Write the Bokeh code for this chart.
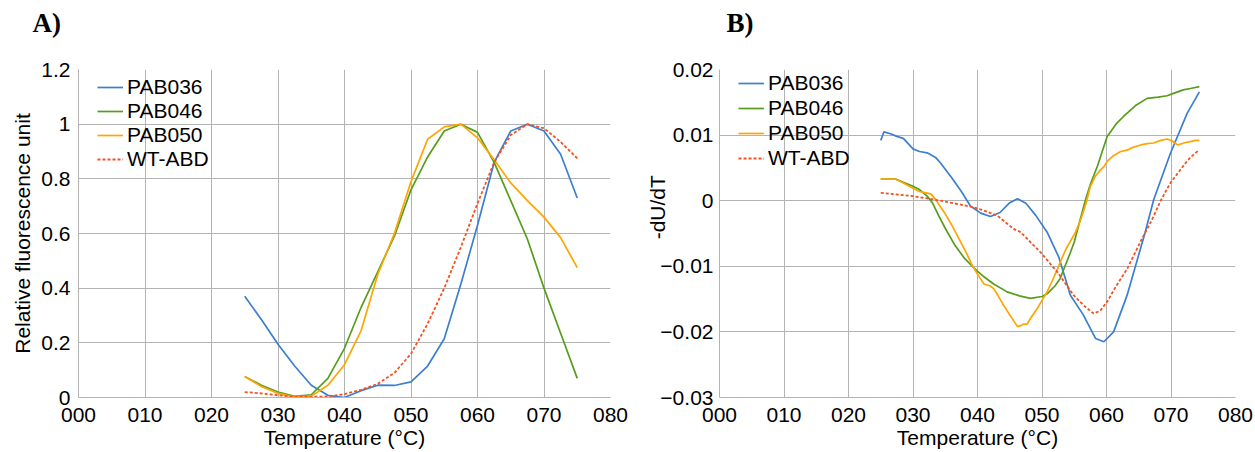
from bokeh.plotting import figure
from bokeh.layouts import row
from bokeh.models import Range1d, FixedTicker, Legend, LegendItem
from bokeh.embed import file_html
from bokeh.resources import INLINE

# ---------------- data ----------------
x_ticks = [0, 10, 20, 30, 40, 50, 60, 70, 80]
x_tick_labels = ["000", "010", "020", "030", "040", "050", "060", "070", "080"]
yA_ticks = [0, 0.2, 0.4, 0.6, 0.8, 1.0, 1.2]
yA_tick_labels = ["0", "0.2", "0.4", "0.6", "0.8", "1", "1.2"]
yB_ticks = [-0.03, -0.02, -0.01, 0, 0.01, 0.02]
yB_tick_labels = ["\u22120.03", "\u22120.02", "\u22120.01", "0", "0.01", "0.02"]

series_names = ["PAB036", "PAB046", "PAB050", "WT-ABD"]

# Panel A: relative fluorescence
tA = [25, 27.5, 30, 32.5, 35, 37.5, 40, 42.5, 45, 47.5, 50, 52.5, 55, 57.5,
      60, 62.5, 65, 67.5, 70, 72.5, 75]
a_pab036 = [0.37, 0.285, 0.195, 0.115, 0.045, 0.008, 0.0, 0.025, 0.045, 0.044, 0.057,
            0.115, 0.215, 0.415, 0.63, 0.86, 0.975, 1.0, 0.975, 0.89, 0.73]
a_pab046 = [0.077, 0.045, 0.02, 0.004, 0.01, 0.07, 0.18, 0.33, 0.46, 0.59, 0.76,
            0.88, 0.975, 1.0, 0.97, 0.86, 0.72, 0.58, 0.4, 0.235, 0.07]
a_pab050 = [0.077, 0.04, 0.015, 0.002, 0.005, 0.045, 0.12, 0.245, 0.45, 0.6, 0.79,
            0.945, 0.99, 1.0, 0.95, 0.87, 0.785, 0.72, 0.66, 0.585, 0.475]
a_wtabd = [0.02, 0.015, 0.008, 0.003, 0.002, 0.004, 0.012, 0.028, 0.05, 0.09, 0.16,
           0.27, 0.4, 0.55, 0.71, 0.86, 0.96, 1.0, 0.985, 0.935, 0.875]

# Panel B: -dU/dT
tB_pab036 = [25, 25.5, 26.5, 27.5, 28.5, 30, 31, 32.2, 33.5, 34.3, 36, 37.5, 38.9,
             40.5, 42, 43.5, 45, 46.2, 47.5, 49, 50.8, 52.6, 54.4, 56.4, 58.3,
             59.6, 61.1, 63.2, 66, 67.3, 69.9, 72.5, 74.4]
b_pab036 = [0.0092, 0.0105, 0.0102, 0.0098, 0.0095, 0.0079, 0.0075, 0.0073, 0.0066,
            0.0057, 0.0035, 0.0014, -0.0008, -0.0019, -0.0024, -0.0018, -0.0003,
            0.0003, -0.0004, -0.0022, -0.0048, -0.0086, -0.0144, -0.0174, -0.021,
            -0.0215, -0.020, -0.0144, -0.0048, 0.0001, 0.0072, 0.0133, 0.0166]

tB_pab046 = [25, 27.3, 28.5, 30, 31, 32.2, 33, 34, 35, 36.5, 38, 39.5, 41, 42.5,
             44.6, 46.5, 48.2, 50, 50.8, 52, 52.8, 54.4, 55, 56.7, 57.5, 58.6, 60.1,
             61.5, 62.6, 64.5, 66.3, 68, 69.4, 70.5, 71.9, 73, 74.4]
b_pab046 = [0.0033, 0.0033, 0.0028, 0.0022, 0.0017, 0.0007, -0.0003, -0.0023,
            -0.0042, -0.0068, -0.0088, -0.0103, -0.0116, -0.0127, -0.0139, -0.0145,
            -0.0149, -0.0146, -0.0142, -0.013, -0.0119, -0.0079, -0.0063, 0.0,
            0.0025, 0.0053, 0.0098, 0.0117, 0.0128, 0.0145, 0.0156, 0.0158, 0.016,
            0.0164, 0.0169, 0.0171, 0.0174]

tB_pab050 = [25, 27.3, 28.5, 30, 31, 32, 32.8, 33.5, 34.3, 35, 36, 37.4, 38.3, 39.2,
             40.2, 41, 42, 42.5, 43.2, 43.9, 44.6, 45.4, 46.2, 46.8, 47.2, 47.7,
             48.3, 49.3, 50, 50.8, 51.6, 52.4, 53, 53.7, 55.2, 56, 56.8, 57.5, 58.3,
             59.1, 59.6, 60.1, 61, 62.2, 63.2, 64, 65.3, 66.3, 67.3, 68.4, 69.4,
             70.2, 71, 72, 73, 73.8, 74.4]
b_pab050 = [0.0033, 0.0033, 0.0027, 0.0019, 0.0014, 0.0012, 0.001, 0.0002, -0.001,
            -0.002, -0.0037, -0.0063, -0.008, -0.0099, -0.0115, -0.0127, -0.013,
            -0.0134, -0.0145, -0.0157, -0.0168, -0.018, -0.0192, -0.019, -0.0188,
            -0.0188, -0.0178, -0.0164, -0.0152, -0.0139, -0.0122, -0.0104, -0.009,
            -0.0074, -0.0048, -0.0029, -0.0005, 0.0022, 0.0038, 0.0047, 0.0052,
            0.006, 0.0068, 0.0075, 0.0077, 0.0081, 0.0085, 0.0087, 0.0088, 0.0092,
            0.0094, 0.0091, 0.0085, 0.0088, 0.009, 0.0092, 0.0092]

tB_wtabd = [25, 30, 34.3, 37.4, 39.4, 41, 43.1, 45.6, 46.7, 48.2, 49.8, 52.4, 54.9,
            56.5, 58, 59, 60.1, 61.5, 63.2, 65.5, 67, 68.4, 69.9, 71.9, 73, 74.3]
b_wtabd = [0.0012, 0.0007, 0.0, -0.0006, -0.001, -0.0015, -0.0023, -0.0043, -0.0048,
           -0.0063, -0.0079, -0.0109, -0.0144, -0.016, -0.0172, -0.0168, -0.0154,
           -0.013, -0.0104, -0.0058, -0.003, 0.0, 0.0027, 0.0053, 0.0066, 0.0077]

# ---------------- style ----------------
COLORS = ["#3b7fcf", "#579d1c", "#ffa500", "#f4511e"]
FONT = "Liberation Sans"
FS = "21px"
GRID = "#b3b3b3"


def make_fig(width, height, bl, bt, br, bb, yr, yticks, ylabels, letter, letter_off):
    p = figure(width=width, height=height, output_backend="svg",
               toolbar_location=None, x_range=Range1d(0, 80), y_range=yr,
               min_border_left=bl, min_border_top=bt, min_border_right=br,
               min_border_bottom=bb, outline_line_color=None)
    p.xaxis.ticker = FixedTicker(ticks=x_ticks)
    p.xaxis.major_label_overrides = {t: l for t, l in zip(x_ticks, x_tick_labels)}
    p.yaxis.ticker = FixedTicker(ticks=yticks)
    p.yaxis.major_label_overrides = {t: l for t, l in zip(yticks, ylabels)}
    for ax in (p.xaxis, p.yaxis):
        ax.major_tick_out = 0
        ax.major_tick_in = 0
        ax.minor_tick_out = 0
        ax.minor_tick_in = 0
        ax.axis_line_color = GRID
        ax.major_label_text_font = FONT
        ax.major_label_text_font_size = FS
        ax.major_label_text_color = "#000000"
        ax.axis_label_text_font = FONT
        ax.axis_label_text_font_size = FS
        ax.axis_label_text_font_style = "normal"
        ax.axis_label_text_color = "#000000"
    p.xaxis.major_label_standoff = 10
    p.xaxis.axis_label = "Temperature (\u00b0C)"
    p.xaxis.axis_label_standoff = 1
    p.xgrid.ticker = FixedTicker(ticks=x_ticks)
    p.ygrid.ticker = FixedTicker(ticks=yticks)
    p.grid.grid_line_color = GRID
    p.grid.grid_line_width = 1
    # panel letter; an empty second line lifts it above the plot area
    p.title.text = letter + "\n\u00a0"
    p.title.align = "left"
    p.title.offset = letter_off
    p.title.text_font = "Liberation Serif"
    p.title.text_font_size = "27px"
    p.title.text_font_style = "bold"
    p.title.text_color = "#000000"
    p.title.vertical_align = "top"
    p.title.standoff = 0
    return p


def add_lines(p, xs_list, ys_list, legend_x, legend_y, spacing):
    items = []
    for i, (xs, ys) in enumerate(zip(xs_list, ys_list)):
        kw = dict(line_color=COLORS[i], line_width=1.7)
        if series_names[i] == "WT-ABD":
            kw["line_dash"] = "3 2"
            kw["line_width"] = 1.8
        r = p.line(xs, ys, **kw)
        items.append(LegendItem(label=series_names[i], renderers=[r]))
    leg = Legend(items=items, location=(legend_x, legend_y),
                 label_text_font=FONT, label_text_font_size=FS,
                 label_text_color="#000000", label_height=24, glyph_height=24,
                 glyph_width=26, label_standoff=4, spacing=spacing, padding=0,
                 margin=0, border_line_color=None, background_fill_alpha=0)
    p.add_layout(leg, "center")


# Panel A
pA = make_fig(640, 452, 78, 69, 30, 55, Range1d(0, 1.2), yA_ticks, yA_tick_labels,
              "A)", -46)
pA.yaxis.major_label_standoff = 8
pA.yaxis.axis_label = "Relative fluorescence unit"
pA.yaxis.axis_label_standoff = 4
add_lines(pA, [tA, tA, tA, tA], [a_pab036, a_pab046, a_pab050, a_wtabd], 19, 226, 0)

# Panel B
pB = make_fig(615, 452, 79, 66, 20, 55, Range1d(-0.03, 0.02), yB_ticks, yB_tick_labels,
              "B)", 7)
pB.yaxis.major_label_standoff = 6
pB.yaxis.axis_label = "\u00a0" * 9 + "-dU/dT"
pB.yaxis.axis_label_standoff = -12
add_lines(pB, [tB_pab036, tB_pab046, tB_pab050, tB_wtabd],
          [b_pab036, b_pab046, b_pab050, b_wtabd], 19, 227, 1)

layout = row(pA, pB)
open("out.html", "w").write(file_html(layout, INLINE))
